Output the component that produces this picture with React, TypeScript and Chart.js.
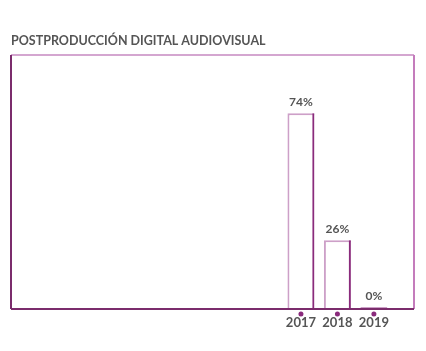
import React, { useEffect, useRef } from "react";
import { Chart, registerables } from "chart.js";

Chart.register(...registerables);

const TITLE = "POSTPRODUCCIÓN DIGITAL AUDIOVISUAL";
const YEARS = [2017, 2018, 2019];
const VALUES = [74, 26, 0];
const X_MIN = 2009.05;
const X_MAX = 2020.1;
const Y_MAX = 96;

const DARK = "#8a2b7c";
const LIGHT = "#cda0c8";
const FRAME_DARK = "#7b2c6c";
const FRAME_TOP = "#d4a6d0";
const FRAME_RIGHT = "#c47cbc";
const TEXT = "#555555";
const FONT = "Lato, 'Open Sans', sans-serif";

const framePlugin = {
  id: "frame",
  afterDraw(chart: any) {
    const { ctx, chartArea: a } = chart;
    ctx.save();
    ctx.lineWidth = 2;
    const line = (x1: number, y1: number, x2: number, y2: number, c: string) => {
      ctx.strokeStyle = c;
      ctx.beginPath();
      ctx.moveTo(x1, y1);
      ctx.lineTo(x2, y2);
      ctx.stroke();
    };
    line(a.left, a.top, a.right, a.top, FRAME_TOP);
    line(a.right, a.top, a.right, a.bottom, FRAME_RIGHT);
    line(a.left, a.top, a.left, a.bottom, FRAME_DARK);
    line(a.left, a.bottom, a.right, a.bottom, FRAME_DARK);
    // dots under each year tick
    const xs = chart.scales.x;
    ctx.fillStyle = DARK;
    YEARS.forEach((y) => {
      ctx.beginPath();
      ctx.arc(xs.getPixelForValue(y), a.bottom + 5, 2.5, 0, Math.PI * 2);
      ctx.fill();
    });
    ctx.restore();
  },
};

const valueLabelPlugin = {
  id: "valueLabels",
  afterDatasetsDraw(chart: any) {
    const { ctx } = chart;
    const meta = chart.getDatasetMeta(0);
    ctx.save();
    ctx.font = `bold 12px ${FONT}`;
    ctx.fillStyle = TEXT;
    ctx.textAlign = "center";
    ctx.textBaseline = "alphabetic";
    meta.data.forEach((el: any, i: number) => {
      ctx.fillText(`${VALUES[i]}%`, el.x, el.y - 7);
    });
    ctx.restore();
  },
};

export default function App() {
  const ref = useRef<HTMLCanvasElement>(null);
  useEffect(() => {
    const points = YEARS.map((x, i) => ({ x, y: VALUES[i] }));
    const chart = new Chart(ref.current!, {
      type: "bar",
      data: {
        datasets: [
          {
            data: points,
            order: 1,
            backgroundColor: VALUES.map((v) => (v === 0 ? LIGHT : "#ffffff")),
            borderColor: LIGHT,
            borderWidth: { left: 2, top: 2, right: 0, bottom: 0 },
            borderSkipped: false,
            minBarLength: 2,
            grouped: false,
            barPercentage: 0.74,
            categoryPercentage: 1,
          } as any,
          {
            data: points,
            order: 0,
            backgroundColor: "rgba(0,0,0,0)",
            borderColor: DARK,
            borderWidth: { left: 0, top: 0, right: 2, bottom: 0 },
            borderSkipped: false,
            grouped: false,
            barPercentage: 0.74,
            categoryPercentage: 1,
          } as any,
        ],
      },
      options: {
        animation: false,
        responsive: true,
        maintainAspectRatio: false,
        layout: { padding: { left: 11, right: 12, top: 0, bottom: 16 } },
        plugins: {
          legend: { display: false },
          tooltip: { enabled: false },
          title: {
            display: true,
            text: TITLE,
            align: "start",
            color: TEXT,
            font: { family: FONT, size: 12.5, weight: "bold" },
            padding: { top: 33, bottom: 7 },
          },
        },
        scales: {
          x: {
            type: "linear",
            min: X_MIN,
            max: X_MAX,
            offset: false,
            afterBuildTicks: (s: any) => {
              s.ticks = YEARS.map((v) => ({ value: v }));
            },
            afterFit: (s: any) => {
              s.height = 26;
            },
            grid: { display: false, drawTicks: false, tickLength: 0 },
            border: { display: false },
            ticks: {
              padding: 6.5,
              color: TEXT,
              font: { family: FONT, size: 13, weight: "bold" },
              callback: (v: any) => String(v),
              autoSkip: false,
              maxRotation: 0,
            },
          },
          y: {
            display: false,
            min: 0,
            max: Y_MAX,
          },
        },
      },
      plugins: [framePlugin, valueLabelPlugin],
    });
    return () => chart.destroy();
  }, []);
  return (
    <div style={{ position: "fixed", left: 0, top: 0, width: 426, height: 351, background: "#fff" }}>
      <canvas ref={ref} />
    </div>
  );
}
